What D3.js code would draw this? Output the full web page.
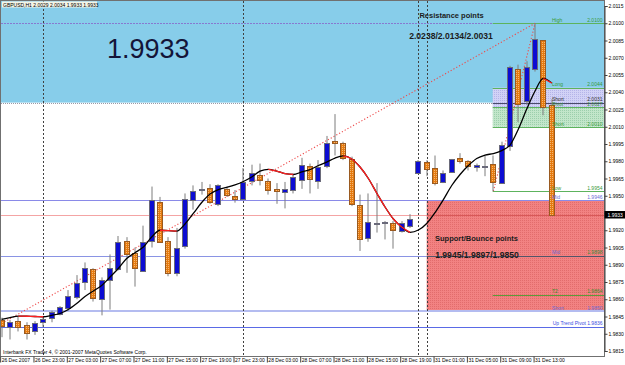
<!DOCTYPE html>
<html><head><meta charset="utf-8">
<script src="https://cdn.jsdelivr.net/npm/d3@7"></script>
<style>
html,body{margin:0;padding:0;background:#fff;}
svg{display:block;}
text{font-family:"Liberation Sans",Arial,sans-serif;}
</style></head><body>
<svg id="c" width="625" height="365"></svg>
<script>
// ---------------- DATA ----------------
const dayBlocks = [["26 Dec",19,23],["27 Dec",0,23],["28 Dec",0,20],["30 Dec",23,23],["31 Dec",0,15]];
const times = [];
dayBlocks.forEach(([d,a,b])=>{for(let h=a;h<=b;h++) times.push(d+" "+String(h).padStart(2,"0")+":00");});

const open  = [1.9842,1.9836,1.9841,1.9838,1.9832,1.9840,1.9844,1.9847,1.9852,1.9862,1.9875,1.9886,1.9860,1.9877,1.9886,1.9911,1.9900,1.9885,1.9911,1.9945,1.9911,1.9883,1.9906,1.9946,1.9955,1.9957,1.9943,1.9956,1.9950,1.9947,1.9963,1.9968,1.9963,1.9956,1.9953,1.9955,1.9964,1.9976,1.9963,1.9976,1.9998,1.9996,1.9982,1.9942,1.9913,1.9926,1.9927,1.9926,1.9919,1.9924,1.9970,1.9979,1.9974,1.9962,1.9971,1.9983,1.9980,1.9975,1.9976,1.9978,1.9961,1.9993,2.0060,2.0032,2.0060,2.0085,2.0029];
const high  = [1.9844,1.9842,1.9845,1.9840,1.9841,1.9844,1.9850,1.9854,1.9868,1.9881,1.9892,1.9887,1.9879,1.9899,1.9915,1.9914,1.9905,1.9924,1.9958,1.9949,1.9914,1.9922,1.9952,1.9959,1.9962,1.9960,1.9960,1.9958,1.9955,1.9974,1.9977,1.9978,1.9965,1.9961,1.9962,1.9969,1.9983,1.9978,1.9981,2.0002,2.0021,1.9997,1.9984,1.9951,1.9952,1.9961,1.9928,1.9928,1.9928,1.9934,1.9981,1.9981,1.9985,1.9972,1.9982,1.9987,1.9981,1.9978,1.9985,1.9985,1.9997,2.0063,2.0064,2.0067,2.0100,2.0085,2.0034];
const low   = [1.9827,1.9825,1.9832,1.9825,1.9829,1.9836,1.9840,1.9846,1.9850,1.9860,1.9868,1.9858,1.9846,1.9851,1.9885,1.9883,1.9871,1.9884,1.9905,1.9909,1.9880,1.9880,1.9904,1.9938,1.9951,1.9943,1.9941,1.9949,1.9944,1.9947,1.9959,1.9959,1.9951,1.9943,1.9939,1.9952,1.9956,1.9952,1.9956,1.9974,1.9985,1.9981,1.9941,1.9902,1.9910,1.9918,1.9912,1.9904,1.9918,1.9922,1.9969,1.9967,1.9959,1.9961,1.9970,1.9978,1.9972,1.9971,1.9967,1.9954,1.9961,1.9989,2.0014,2.0029,2.0058,2.0020,1.9933];
const close = [1.9837,1.9840,1.9836,1.9831,1.9839,1.9843,1.9849,1.9853,1.9863,1.9874,1.9887,1.9861,1.9877,1.9887,1.9910,1.9899,1.9887,1.9910,1.9946,1.9910,1.9883,1.9905,1.9947,1.9954,1.9956,1.9945,1.9959,1.9951,1.9947,1.9962,1.9970,1.9964,1.9955,1.9954,1.9956,1.9966,1.9977,1.9965,1.9975,1.9996,1.9996,1.9983,1.9943,1.9912,1.9927,1.9926,1.9927,1.9920,1.9926,1.9930,1.9980,1.9973,1.9961,1.9970,1.9982,1.9980,1.9976,1.9977,1.9976,1.9962,1.9994,2.0062,2.0030,2.0062,2.0086,2.0027,1.9933];
const ma    = [1.98424,1.98441,1.98454,1.98452,1.98450,1.98448,1.98460,1.98476,1.98511,1.98563,1.98624,1.98672,1.98720,1.98793,1.98867,1.98954,1.99005,1.99054,1.99141,1.99200,1.99196,1.99192,1.99254,1.99346,1.99441,1.99515,1.99554,1.99573,1.99595,1.99624,1.99663,1.99715,1.99730,1.99715,1.99692,1.99685,1.99707,1.99728,1.99763,1.99793,1.99828,1.99846,1.99820,1.99750,1.99650,1.99524,1.99402,1.99298,1.99228,1.99182,1.99202,1.99259,1.99354,1.99467,1.99589,1.99685,1.99763,1.99824,1.99854,1.99867,1.99893,1.99941,2.00080,2.00254,2.00411,2.00520,2.00480];

const yTicks = [2.0115,2.0100,2.0085,2.0070,2.0055,2.0040,2.0025,2.0010,1.9995,1.9980,1.9965,1.9950,1.9935,1.9920,1.9905,1.9890,1.9875,1.9860,1.9845,1.9830,1.9815];
const xTickLabels = ["26 Dec 2007","26 Dec 23:00","27 Dec 03:00","27 Dec 07:00","27 Dec 11:00","27 Dec 15:00","27 Dec 19:00","27 Dec 23:00","28 Dec 03:00","28 Dec 07:00","28 Dec 11:00","28 Dec 15:00","28 Dec 19:00","31 Dec 01:00","31 Dec 05:00","31 Dec 09:00","31 Dec 13:00"];
const xTickBars = [0,4,8,12,16,20,24,28,32,36,40,44,48,52,56,60,64];
const separatorBars = [5,29,50,51];

const levelNames  = ["High","Long","Short","Pivot","Short","Low","Mid","Mid","T2","Short"];
const levelValues = [2.0100,2.0044,2.0031,2.0027,2.0010,1.9954,1.9946,1.9898,1.9864,1.9850];
const trendPivotName = "Up Trend Pivot", trendPivotValue = 1.9836;
const resistance = [2.0238,2.0134,2.0031];
const support = [1.9945,1.9897,1.9850];
const lastPrice = 1.9933;
const header = "GBPUSD,H1  2.0029 2.0034 1.9933 1.9933";
const trendA = {from:0, p0:1.9839, to:64, p1:2.0100};
const trendB = {from:59, p0:1.9954, to:64, p1:2.0100};
const zoneBars = {right:59, support:51};
const copyright = "Interbank FX Trader 4, \u00A9 2001-2007 MetaQuotes Software Corp.";

// ---------------- DRAW ----------------
const svg = d3.select("#c");
const fmt = d3.format(".4f");
const x = d3.scalePoint().domain(times).range([1.63, 551.74]);
const y = d3.scaleLinear().domain([1.9815, 2.0115]).range([351, 6]);
const X = i => x(times[i]);
const R = v => Math.round(v) + 0.5;
const L = 1, RT = 604, T = 1, B = 356;

const defs = svg.append("defs");
function pat(id, bg, dot, two){
  const p = defs.append("pattern").attr("id", id).attr("patternUnits","userSpaceOnUse").attr("width",2).attr("height",2);
  p.append("rect").attr("width",2).attr("height",2).attr("fill",bg);
  p.append("rect").attr("width",1).attr("height",1).attr("fill",dot);
  if (two) p.append("rect").attr("x",1).attr("y",1).attr("width",1).attr("height",1).attr("fill",dot);
}
pat("pOrange","#e47a10","#f6b670",false);
pat("pRed","#f28282","#e26c6c");
pat("pLav","#d2d2f6","#b4b4e8");
pat("pGreen","#c2e6ca","#9ccfac");
defs.append("clipPath").attr("id","clip").append("rect").attr("x",L).attr("y",T).attr("width",RT-L).attr("height",B-T);

svg.append("rect").attr("width",625).attr("height",365).attr("fill","#fff");
const g = svg.append("g").attr("clip-path","url(#clip)");

// resistance region (sky blue)
const yRes = y(levelValues[2]);
g.append("rect").attr("x",L).attr("y",T).attr("width",RT-L).attr("height",yRes-T).attr("fill","#87cdea");

// zones on right
const xr = X(zoneBars.right) - 0.7;
g.append("rect").attr("x",xr).attr("y",y(levelValues[1])).attr("width",RT-xr).attr("height",y(levelValues[3])-y(levelValues[1])).attr("fill","url(#pLav)");
g.append("rect").attr("x",xr).attr("y",y(levelValues[3])).attr("width",RT-xr).attr("height",y(levelValues[4])-y(levelValues[3])).attr("fill","url(#pGreen)");
const xs = X(zoneBars.support);
g.append("rect").attr("x",xs).attr("y",y(support[0]+0.0001)).attr("width",RT-xs).attr("height",y(support[2])-y(support[0]+0.0001)).attr("fill","url(#pRed)");

// horizontal lines
function hline(p, x0, x1, color, w, dash){
  const yy = w === 2 ? Math.round(y(p)) : R(y(p));
  const ln = g.append("line").attr("x1",x0).attr("x2",x1).attr("y1",yy).attr("y2",yy).attr("stroke",color).attr("stroke-width",w||1);
  if (dash) ln.attr("stroke-dasharray",dash);
}
const green = "#5db35d";
hline(levelValues[0], L, xr, "#8878d0", 1, "2,1");
hline(levelValues[0], xr, RT, green);
hline(levelValues[1], xr, RT, green);
hline(levelValues[2], L, xr, "#9a9aa8", 1, "1,1");
hline(levelValues[2], xr, RT, "#4a4a6a");
hline(levelValues[3], xr, RT, green);
hline(levelValues[4], xr, RT, green);
hline(levelValues[5], xr, RT, green);
hline(levelValues[6], L, RT, "#8a8ae8");
hline(lastPrice, L, xs, "#f4a4a4");
hline(lastPrice, xs, RT, "#d85858");
hline(levelValues[7], L, xs, "#8a94e4");
hline(levelValues[7], xs, RT, "#545468");
hline(levelValues[8], xr, RT, "#5e9a3a");
hline(levelValues[9], L, RT, "#b4bcf0", 2);
hline(trendPivotValue, L, RT, "#5a6ae6");

// period separators
g.selectAll(".sep").data(separatorBars).join("line")
  .attr("x1",d=>R(X(d))).attr("x2",d=>R(X(d))).attr("y1",T).attr("y2",B)
  .attr("stroke","#404040").attr("stroke-dasharray","2,2");

// trend lines
[trendA, trendB].forEach(t => {
  g.append("line").attr("x1",X(t.from)).attr("y1",y(t.p0)).attr("x2",X(t.to)).attr("y2",y(t.p1))
   .attr("stroke","#ee4a4a").attr("stroke-width",1.1).attr("stroke-dasharray","1.2,2");
});

// candles
const idx = d3.range(times.length);
const cg = g.append("g");
cg.selectAll(".wick").data(idx).join("line")
  .attr("x1",i=>R(X(i))-0.5).attr("x2",i=>R(X(i))-0.5)
  .attr("y1",i=>y(high[i])).attr("y2",i=>y(low[i]))
  .attr("stroke","#7c7c7c");
cg.selectAll(".body").data(idx).join("rect")
  .attr("x",i=>Math.round(X(i))-2.5)
  .attr("y",i=>Math.round(y(Math.max(open[i],close[i])))+0.5)
  .attr("width",5)
  .attr("height",i=>Math.max(Math.round(y(Math.min(open[i],close[i])))-Math.round(y(Math.max(open[i],close[i]))),1))
  .attr("fill",i=>close[i]>=open[i] ? "#0c0cd2" : "url(#pOrange)")
  .attr("stroke",i=>close[i]>=open[i] ? "#6a6a7a" : "#9a5a20");

// moving average (black rising / red falling)
const line = d3.line().x(i=>X(i)).y(i=>y(ma[i])).curve(d3.curveMonotoneX);
g.append("path").attr("d",line(idx)).attr("fill","none").attr("stroke","#000").attr("stroke-width",1.3);
let run = null; const runs = [];
for (let i=0;i<ma.length-1;i++){
  if (ma[i+1] < ma[i]) { if (!run) run=[i]; run.push(i+1); }
  else if (run) { runs.push(run); run=null; }
}
if (run) runs.push(run);
runs.forEach(r => g.append("path").attr("d",line(r)).attr("fill","none").attr("stroke","#ff2020").attr("stroke-width",1.3));

// texts
g.append("rect").attr("x",2).attr("y",1.5).attr("width",95).attr("height",6).attr("fill","#f4f4e6");
g.append("text").attr("x",3).attr("y",6.6).attr("font-size",5).attr("fill","#000").text(header);
g.append("text").attr("x",107).attr("y",58).attr("font-size",27).attr("fill","#141438").text(fmt(lastPrice));
g.append("text").attr("x",451.5).attr("y",18).attr("text-anchor","middle").attr("font-size",7.5).attr("font-weight","bold").attr("fill","#1c1c1c").text("Resistance points");
g.append("text").attr("x",451).attr("y",38.5).attr("text-anchor","middle").attr("font-size",8.6).attr("font-weight","bold").attr("fill","#1c1c1c").text(resistance.map(fmt).join("/"));
g.append("text").attr("x",476.5).attr("y",241).attr("text-anchor","middle").attr("font-size",7.5).attr("font-weight","bold").attr("fill","#1c1c1c").text("Support/Bounce points");
g.append("text").attr("x",477).attr("y",257.5).attr("text-anchor","middle").attr("font-size",8.6).attr("font-weight","bold").attr("fill","#1c1c1c").text(support.map(fmt).join("/"));

const nameColor = ["#3a9a3a","#3a9a3a","#303030","#3a9a3a","#3a9a3a","#3a9a3a","#6c6cd4","#6c6cd4","#3a8a2a","#6c6cd4"];
const valColor  = ["#3a9a3a","#3a9a3a","#303030","#3a9a3a","#3a9a3a","#3a9a3a","#6c6cd4","#3a8a3a","#3a8a2a","#6c6cd4"];
levelNames.forEach((n,k)=>{
  const by = y(levelValues[k]) - 1.2;
  g.append("text").attr("x",552).attr("y",by).attr("font-size",5).attr("fill",nameColor[k]).text(n);
  g.append("text").attr("x",602.5).attr("y",by).attr("text-anchor","end").attr("font-size",5).attr("fill",valColor[k]).text(fmt(levelValues[k]));
});
g.append("text").attr("x",602.5).attr("y",y(trendPivotValue)-1.6).attr("text-anchor","end").attr("font-size",5).attr("fill","#3a4ae0")
  .text(trendPivotName + "  " + fmt(trendPivotValue));
g.append("text").attr("x",3).attr("y",353.5).attr("font-size",5).attr("fill","#000").text(copyright);

// frame
svg.append("rect").attr("x",0.5).attr("y",0.5).attr("width",604).attr("height",B).attr("fill","none").attr("stroke","#707070");

// y axis
const ya = svg.append("g").attr("transform","translate(604.5,0)")
  .call(d3.axisRight(y).tickValues(yTicks).tickFormat(fmt).tickSize(3).tickPadding(1));
ya.select(".domain").attr("stroke","#404040");
ya.selectAll(".tick line").attr("stroke","#404040");
ya.selectAll("text").attr("font-size",5).attr("fill","#000").attr("font-family","Liberation Sans, Arial, sans-serif");

// price box
svg.append("rect").attr("x",604.5).attr("y",211).attr("width",20.5).attr("height",7.5).attr("fill","#000");
svg.append("text").attr("x",607.5).attr("y",216.6).attr("font-size",5).attr("fill","#fff").text(fmt(lastPrice));

// x axis
const xa = svg.append("g").attr("transform",`translate(0,${B+0.5})`)
  .call(d3.axisBottom(x).tickValues(xTickBars.map(i=>times[i])).tickFormat((d,k)=>xTickLabels[k]).tickSize(6).tickPadding(0));
xa.select(".domain").remove();
xa.selectAll(".tick line").attr("stroke","#404040").attr("transform","translate(-1.5,0)");
xa.selectAll("text").attr("text-anchor","start").attr("dx",-0.5).attr("y",2.2).attr("dy","0.71em")
  .attr("font-size",5).attr("fill","#000").attr("font-family","Liberation Sans, Arial, sans-serif");
</script>
</body></html>
